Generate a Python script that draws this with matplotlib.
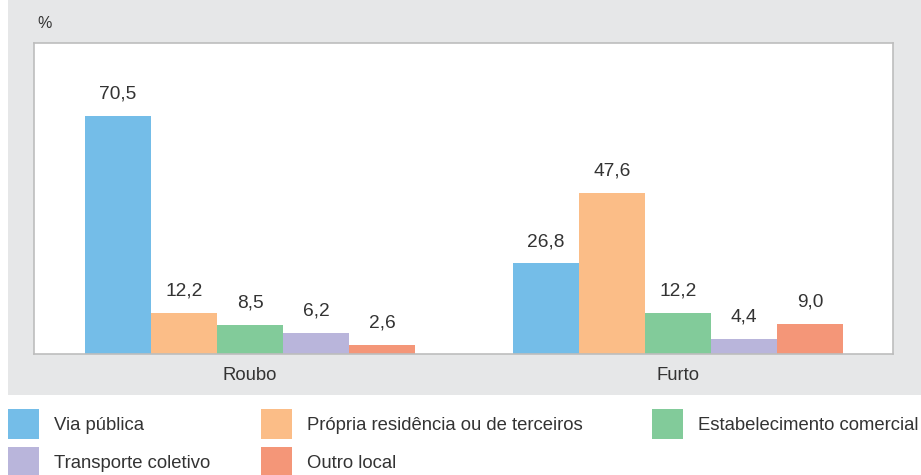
import numpy as np
import matplotlib
matplotlib.use("Agg")
import matplotlib.pyplot as plt
from matplotlib.patches import Rectangle

# data
groups = ["Roubo", "Furto"]
categories = ["Via pública", "Própria residência ou de terceiros",
              "Estabelecimento comercial", "Transporte coletivo", "Outro local"]
roubo = [70.5, 12.2, 8.5, 6.2, 2.6]
furto = [26.8, 47.6, 12.2, 4.4, 9.0]
colors = ["#74BDE8", "#FBBD87", "#82CB9A", "#B9B5DB", "#F49678"]

plt.rcParams["font.family"] = ["Liberation Sans", "DejaVu Sans"]
TXT = "#333333"
FS = 13.3

fig = plt.figure(figsize=(9.21, 4.75), dpi=100)

# grey panel behind the chart
fig.patches.append(Rectangle((8 / 921, 1 - 395 / 475), 1 - 8 / 921, 395 / 475,
                             transform=fig.transFigure, facecolor="#E6E7E8",
                             edgecolor="none", zorder=-10))

ax = fig.add_axes([34 / 921, 1 - 354 / 475, 859 / 921, 311 / 475])
ax.set_zorder(1)
ax.set_facecolor("white")

w = 66 / 428
x = np.arange(len(groups))
values = np.array([roubo, furto])
handles = []
for i, cat in enumerate(categories):
    pos = x + (i - 2) * w
    bars = ax.bar(pos, values[:, i], width=w, color=colors[i], label=cat,
                  linewidth=0)
    handles.append(bars)
    for xi, v in zip(pos, values[:, i]):
        ax.annotate(f"{v:.1f}".replace(".", ","), (xi, v), xytext=(0, 12.5),
                    textcoords="offset points", ha="center", va="baseline",
                    fontsize=FS + 0.5, color=TXT)

ax.set_xlim(-216 / 428, 643 / 428)
ax.set_ylim(0, 92)
ax.set_xticks(x)
ax.set_xticklabels(groups, fontsize=FS, color=TXT)
ax.tick_params(axis="x", length=0, pad=9)
ax.set_yticks([])
for s in ax.spines.values():
    s.set_color("#BDBDBD")
    s.set_linewidth(1.2)

fig.text(37 / 921, 1 - 24 / 475, "%", fontsize=11.5, color=TXT, va="center")

# legend, three columns placed by hand
col_x = [8, 261, 652]
cols = [[0, 3], [1, 4], [2]]
for cx, idx in zip(col_x, cols):
    leg = fig.legend([handles[k] for k in idx], [categories[k] for k in idx],
                     loc="upper left", bbox_to_anchor=(cx / 921, 1 - 409 / 475),
                     frameon=False, fontsize=FS, handlelength=1.68,
                     handleheight=2.12, handletextpad=0.82, labelspacing=0.43,
                     borderpad=0, borderaxespad=0)
    for t in leg.get_texts():
        t.set_color(TXT)

fig.savefig("out.png", dpi=100)
